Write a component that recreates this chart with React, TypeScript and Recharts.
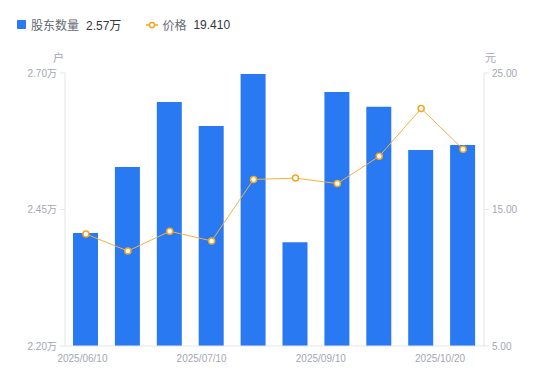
import React from "react";
import { ComposedChart, Bar, Line, XAxis, YAxis } from "recharts";

const dates = [
  "2025/06/10", "2025/06/20", "2025/06/30", "2025/07/10", "2025/07/31",
  "2025/08/20", "2025/09/10", "2025/09/30", "2025/10/10", "2025/10/20",
];
const holders = [2.407, 2.528, 2.647, 2.603, 2.698, 2.39, 2.665, 2.638, 2.559, 2.568];
const prices = [13.2, 11.96, 13.4, 12.7, 17.2, 17.3, 16.9, 18.9, 22.4, 19.41];
const holderTicks = [2.2, 2.45, 2.7];
const priceTicks = [5, 15, 25];

const data = dates.map((d, i) => ({ date: d, holders: holders[i], price: prices[i] }));

const FONT = '"Liberation Sans", "Noto Sans CJK SC", sans-serif';
const TICK = "#a3a6b4";
const AXIS = "#e3e5ea";

const DateTick = ({ x, y, payload }: any) => {
  const k = payload.index / 3;
  return (
    <text x={x} y={y} dy={8} dx={-3.5 - k * 6.5} textAnchor="middle" fill={TICK} fontSize={10} fontFamily={FONT}>
      {payload.value}
    </text>
  );
};

export default function App() {
  return (
    <div style={{ position: "absolute", left: 0, top: 0, width: 550, height: 381, background: "#fff", fontFamily: FONT }}>
      <div style={{ position: "absolute", left: 17, top: 16, display: "flex", alignItems: "center", fontSize: 12, whiteSpace: "nowrap" }}>
        <span style={{ width: 9, height: 9, background: "#2979f2", borderRadius: 1, marginRight: 5 }} />
        <span style={{ color: "#666a75" }}>股东数量</span>
        <span style={{ color: "#333640", marginLeft: 7 }}>2.57万</span>
        <svg width={12} height={8} style={{ marginLeft: 25, marginRight: 4 }}>
          <line x1={0} y1={4} x2={12} y2={4} stroke="#f5a623" strokeWidth={1.5} />
          <circle cx={6} cy={4} r={2.6} fill="#fff" stroke="#f5a623" strokeWidth={1.5} />
        </svg>
        <span style={{ color: "#666a75" }}>价格</span>
        <span style={{ color: "#333640", marginLeft: 7 }}>19.410</span>
      </div>
      <span style={{ position: "absolute", left: 53, top: 49, fontSize: 11, color: TICK }}>户</span>
      <span style={{ position: "absolute", left: 485, top: 49, fontSize: 11, color: TICK }}>元</span>
      <ComposedChart
        width={550}
        height={381}
        data={data}
        margin={{ top: 73, right: 0, left: 0, bottom: 15 }}
      >
        <XAxis
          dataKey="date"
          interval={2}
          height={20}
          tick={<DateTick />}
          tickLine={false}
          axisLine={{ stroke: AXIS }}
        />
        <YAxis
          yAxisId="left"
          width={65}
          domain={[2.2, 2.7]}
          ticks={holderTicks}
          tickFormatter={(v: number) => `${v.toFixed(2)}万`}
          tick={{ fill: TICK, fontSize: 10, fontFamily: FONT }}
          tickSize={5}
          tickMargin={3}
          tickLine={{ stroke: AXIS }}
          axisLine={{ stroke: AXIS }}
        />
        <YAxis
          yAxisId="right"
          orientation="right"
          width={66}
          domain={[5, 25]}
          ticks={priceTicks}
          tickFormatter={(v: number) => v.toFixed(2)}
          tick={{ fill: TICK, fontSize: 10, fontFamily: FONT }}
          tickSize={5}
          tickMargin={3}
          tickLine={{ stroke: AXIS }}
          axisLine={{ stroke: AXIS }}
        />
        <Bar yAxisId="left" dataKey="holders" fill="#2979f2" barSize={25} isAnimationActive={false} />
        <Line
          yAxisId="right"
          dataKey="price"
          type="linear"
          stroke="#f5b041"
          strokeWidth={1}
          dot={{ r: 3, fill: "#fff", stroke: "#f5a623", strokeWidth: 1.5 }}
          isAnimationActive={false}
        />
      </ComposedChart>
    </div>
  );
}
